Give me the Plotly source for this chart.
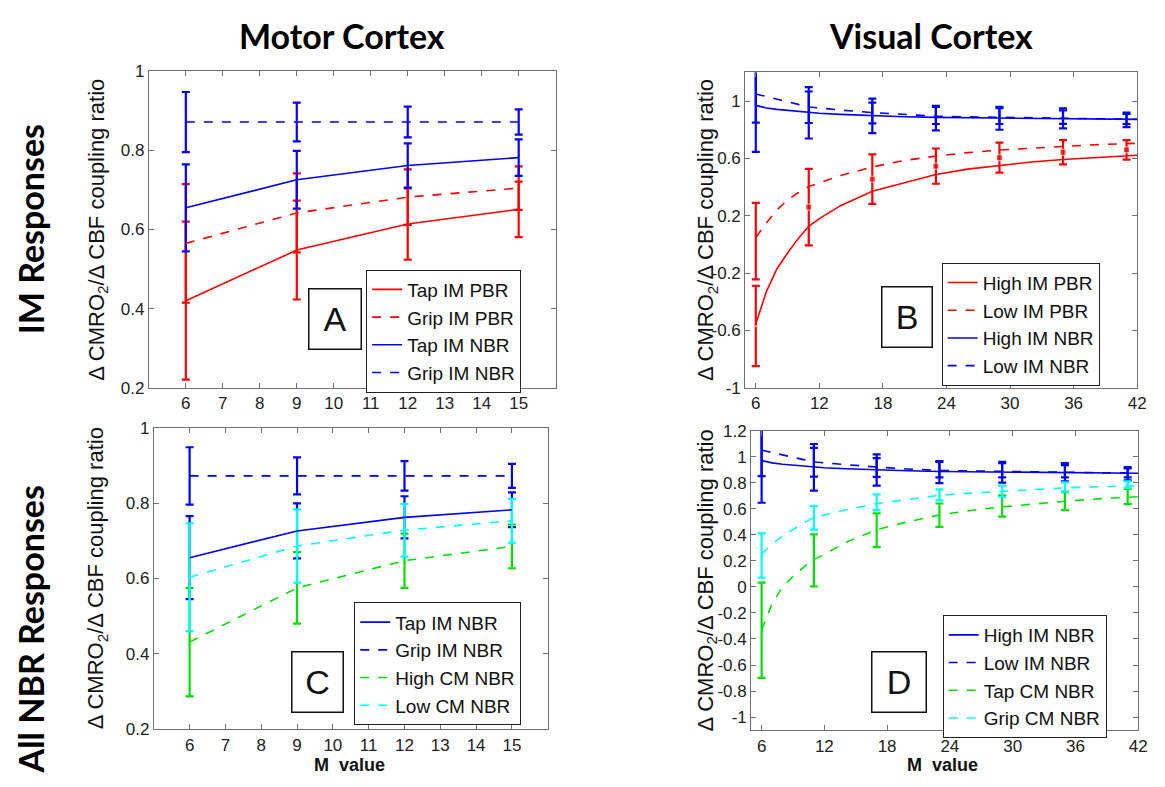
import plotly.graph_objects as go

W, H = 1165, 787

# ---------------- data ----------------
M_motor = [6, 9, 12, 15]
tap_im_pbr = [0.42, 0.548, 0.614, 0.651]
tap_im_pbr_err = [0.2, 0.125, 0.09, 0.07]
grip_im_pbr = [0.565, 0.642, 0.682, 0.705]
grip_im_pbr_err = [0.15, 0.1, 0.07, 0.055]
tap_im_nbr = [0.655, 0.726, 0.762, 0.782]
tap_im_nbr_err = [0.11, 0.073, 0.056, 0.046]
grip_im_nbr = [0.872, 0.872, 0.872, 0.872]
grip_im_nbr_err = [0.076, 0.049, 0.039, 0.032]
high_cm_nbr = [0.431, 0.575, 0.647, 0.685]
high_cm_nbr_err = [0.144, 0.095, 0.072, 0.058]
low_cm_nbr = [0.603, 0.686, 0.728, 0.753]
low_cm_nbr_err = [0.143, 0.097, 0.07, 0.058]

M_curve = [6, 7, 8, 9, 10, 11, 12, 14, 17, 20, 23, 26, 29, 32, 35, 38, 41, 42]
high_im_pbr_curve = [-0.555, -0.33, -0.17, -0.06, 0.04, 0.126, 0.18, 0.27, 0.37, 0.43,
                     0.487, 0.525, 0.552, 0.575, 0.592, 0.607, 0.619, 0.622]
low_im_pbr_curve = [0.047, 0.15, 0.24, 0.31, 0.36, 0.403, 0.43, 0.48, 0.54, 0.585,
                    0.616, 0.64, 0.658, 0.672, 0.685, 0.695, 0.703, 0.705]
high_im_nbr_curve = [0.97, 0.952, 0.942, 0.935, 0.928, 0.92, 0.915, 0.907, 0.898, 0.891,
                     0.886, 0.883, 0.88, 0.877, 0.875, 0.874, 0.872, 0.872]
low_im_nbr_curve = [1.05, 1.03, 1.012, 0.995, 0.977, 0.959, 0.952, 0.937, 0.92, 0.905,
                    0.894, 0.89, 0.886, 0.882, 0.879, 0.876, 0.873, 0.873]
tap_cm_nbr_curve = [-0.33, -0.13, 0.0, 0.08, 0.15, 0.21, 0.25, 0.34, 0.44, 0.50,
                    0.552, 0.587, 0.614, 0.638, 0.657, 0.675, 0.69, 0.692]
grip_cm_nbr_curve = [0.25, 0.33, 0.39, 0.44, 0.49, 0.532, 0.552, 0.59, 0.64, 0.672,
                     0.703, 0.72, 0.735, 0.748, 0.76, 0.768, 0.775, 0.777]

M_err = [6, 11, 17, 23, 29, 35, 41]
high_im_nbr_pts = [0.97, 0.918, 0.897, 0.881, 0.88, 0.88, 0.869]
high_im_nbr_pts_err = [0.324, 0.179, 0.12, 0.085, 0.08, 0.07, 0.051]
low_im_nbr_pts = [1.05, 0.957, 0.917, 0.90, 0.895, 0.888, 0.875]
low_im_nbr_pts_err = [0.2, 0.11, 0.072, 0.06, 0.055, 0.047, 0.035]
high_im_pbr_pts = [-0.57, 0.26, 0.455, 0.546, 0.605, 0.643, 0.66]
high_im_pbr_pts_err = [0.28, 0.267, 0.173, 0.123, 0.105, 0.085, 0.068]
low_im_pbr_pts = [0.023, None, None, None, None, None, None]
low_im_pbr_pts_err = [0.267, 0, 0, 0, 0, 0, 0]
grip_cm_nbr_pts = [0.24, 0.53, 0.65, 0.706, 0.734, 0.768, 0.785]
grip_cm_nbr_pts_err = [0.17, 0.09, 0.06, 0.042, 0.044, 0.035, 0.025]
tap_cm_nbr_pts = [-0.333, 0.203, 0.435, 0.55, 0.621, 0.659, 0.694]
tap_cm_nbr_pts_err = [0.366, 0.2, 0.13, 0.09, 0.082, 0.069, 0.059]

motor_xticks = [6, 7, 8, 9, 10, 11, 12, 13, 14, 15]
visual_xticks = [6, 12, 18, 24, 30, 36, 42]
A_yticks = [0.2, 0.4, 0.6, 0.8, 1]
B_yticks = [-1, -0.6, -0.2, 0.2, 0.6, 1]
D_yticks = [-1, -0.8, -0.6, -0.4, -0.2, 0, 0.2, 0.4, 0.6, 0.8, 1, 1.2]

RED, BLUE, GREEN, CYAN = "#ff0000", "#0000ff", "#00e000", "#00ffff"

# ---------------- layout helpers ----------------
def xd(a, b):
    return [a / W, b / W]

def yd(top, bot):
    return [1 - bot / H, 1 - top / H]

fig = go.Figure()

def line(x, y, color, dash, name, ax, leg, show=True):
    fig.add_trace(go.Scatter(x=x, y=y, mode="lines", name=name,
                             line=dict(color=color, width=1.6, dash="dash" if dash else "solid"),
                             xaxis="x" + ax, yaxis="y" + ax, legend=leg, showlegend=show,
                             hoverinfo="skip"))

def ebar(x, y, err, color, ax, msize=None):
    if msize is None:
        marker = dict(color="rgba(0,0,0,0)", size=1)
    else:
        marker = dict(color=[("rgba(0,0,0,0)" if s == 0 else color) for s in msize],
                      size=[max(s, 1) for s in msize], symbol="square")
    fig.add_trace(go.Scatter(x=x, y=y, mode="markers", showlegend=False,
                             marker=marker,
                             error_y=dict(type="data", array=err, color=color, thickness=2.2, width=4),
                             xaxis="x" + ax, yaxis="y" + ax, hoverinfo="skip"))

# Panel A
ebar(M_motor, tap_im_pbr, tap_im_pbr_err, RED, "")
ebar(M_motor, grip_im_pbr, grip_im_pbr_err, RED, "")
ebar(M_motor, tap_im_nbr, tap_im_nbr_err, BLUE, "")
ebar(M_motor, grip_im_nbr, grip_im_nbr_err, BLUE, "")
line(M_motor, tap_im_pbr, RED, False, "Tap IM PBR", "", "legend")
line(M_motor, grip_im_pbr, RED, True, "Grip IM PBR", "", "legend")
line(M_motor, tap_im_nbr, BLUE, False, "Tap IM NBR", "", "legend")
line(M_motor, grip_im_nbr, BLUE, True, "Grip IM NBR", "", "legend")

# Panel B
ebar(M_err, high_im_pbr_pts, high_im_pbr_pts_err, RED, "2", msize=[0, 6, 6, 6, 6, 6, 6])
ebar(M_err, low_im_pbr_pts, low_im_pbr_pts_err, RED, "2")
ebar(M_err, high_im_nbr_pts, high_im_nbr_pts_err, BLUE, "2")
ebar(M_err, low_im_nbr_pts, low_im_nbr_pts_err, BLUE, "2")
line(M_curve, high_im_pbr_curve, RED, False, "High IM PBR", "2", "legend2")
line(M_curve, low_im_pbr_curve, RED, True, "Low IM PBR", "2", "legend2")
line(M_curve, high_im_nbr_curve, BLUE, False, "High IM NBR", "2", "legend2")
line(M_curve, low_im_nbr_curve, BLUE, True, "Low IM NBR", "2", "legend2")

# Panel C
ebar(M_motor, tap_im_nbr, tap_im_nbr_err, BLUE, "3")
ebar(M_motor, grip_im_nbr, grip_im_nbr_err, BLUE, "3")
ebar(M_motor, high_cm_nbr, high_cm_nbr_err, GREEN, "3")
ebar(M_motor, low_cm_nbr, low_cm_nbr_err, CYAN, "3")
line(M_motor, tap_im_nbr, BLUE, False, "Tap IM NBR", "3", "legend3")
line(M_motor, grip_im_nbr, BLUE, True, "Grip IM NBR", "3", "legend3")
line(M_motor, high_cm_nbr, GREEN, True, "High CM NBR", "3", "legend3")
line(M_motor, low_cm_nbr, CYAN, True, "Low CM NBR", "3", "legend3")

# Panel D
ebar(M_err, high_im_nbr_pts, high_im_nbr_pts_err, BLUE, "4")
ebar(M_err, low_im_nbr_pts, low_im_nbr_pts_err, BLUE, "4")
ebar(M_err, tap_cm_nbr_pts, tap_cm_nbr_pts_err, GREEN, "4")
ebar(M_err, grip_cm_nbr_pts, grip_cm_nbr_pts_err, CYAN, "4")
line(M_curve, high_im_nbr_curve, BLUE, False, "High IM NBR", "4", "legend4")
line(M_curve, low_im_nbr_curve, BLUE, True, "Low IM NBR", "4", "legend4")
line(M_curve, tap_cm_nbr_curve, GREEN, True, "Tap CM NBR", "4", "legend4")
line(M_curve, grip_cm_nbr_curve, CYAN, True, "Grip CM NBR", "4", "legend4")

TICKFONT = dict(family="Liberation Sans, Arial, sans-serif", size=17, color="#222")
AXC = "#707070"

def axis(domain, rng, tickvals, anchor, ticktext=None):
    d = dict(domain=domain, range=rng, tickvals=tickvals, anchor=anchor,
             showline=True, linecolor=AXC, linewidth=1, mirror="ticks",
             ticks="inside", ticklen=5, tickcolor=AXC, showgrid=False, zeroline=False,
             tickfont=TICKFONT, fixedrange=True)
    if ticktext is not None:
        d["ticktext"] = ticktext
    return d

def fmt(v):
    return "%g" % v

fig.update_layout(
    xaxis=axis(xd(150, 560), [5, 16], motor_xticks, "y"),
    yaxis=axis(yd(64, 388), [0.2, 1], A_yticks, "x", [fmt(v) for v in A_yticks]),
    xaxis2=axis(xd(751, 1146), [5, 42], visual_xticks, "y2"),
    yaxis2=axis(yd(65, 388), [-1, 1.2], B_yticks, "x2", [fmt(v) for v in B_yticks]),
    xaxis3=axis(xd(155, 552), [5, 16], motor_xticks, "y3"),
    yaxis3=axis(yd(429, 738), [0.2, 1], A_yticks, "x3", [fmt(v) for v in A_yticks]),
    xaxis4=axis(xd(757, 1147), [5, 42], visual_xticks, "y4"),
    yaxis4=axis(yd(432, 739), [-1.1, 1.2], D_yticks, "x4", [fmt(v) for v in D_yticks]),
)

LEGFONT = dict(family="Liberation Sans, Arial, sans-serif", size=19, color="#111")

def legend(left, top):
    return dict(x=left / W, y=1 - top / H, xanchor="left", yanchor="top",
                bgcolor="white", bordercolor="#222", borderwidth=1, font=LEGFONT,
                tracegroupgap=0, itemwidth=30)

fig.update_layout(
    legend=legend(369, 267),
    legend2=legend(949, 260),
    legend3=legend(357, 608),
    legend4=legend(950, 621),
)

ann = []
def letter(t, cx, cy, w, h):
    ann.append(dict(text=t, x=cx / W, y=1 - cy / H, xref="paper", yref="paper",
                    showarrow=False, width=w - 4, height=h - 4, bordercolor="#111", borderwidth=1.5,
                    bgcolor="white", font=dict(family="Liberation Sans, Arial, sans-serif", size=34, color="#111"),
                    xanchor="center", yanchor="middle"))

letter("A", 338, 318, 53, 61)
letter("B", 914.5, 315.5, 51, 61)
letter("C", 319.5, 690, 52, 61)
letter("D", 906.5, 690, 55, 61)

TITLEFONT = dict(family="Lato, Open Sans, sans-serif", size=34, color="#000", weight="bold")

def txt(t, x, y, font, angle=0):
    ann.append(dict(text=t, x=x / W, y=1 - y / H, xref="paper", yref="paper", showarrow=False,
                    font=font, textangle=angle, xanchor="center", yanchor="middle"))

txt("Motor Cortex", 345, 27, TITLEFONT)
txt("Visual Cortex", 938, 27, TITLEFONT)
txt("IM Responses", 31, 226, TITLEFONT, -90)
txt("All NBR Responses", 31, 636, TITLEFONT, -90)

YTFONT = dict(family="Liberation Sans Narrow, Arial Narrow, Liberation Sans, sans-serif", size=22, color="#111")
ytitle = "Δ CMRO<sub>2</sub>/Δ CBF coupling ratio"
txt(ytitle, 98, 226, YTFONT, -90)
txt(ytitle, 98, 583, YTFONT, -90)
txt(ytitle, 712, 226, YTFONT, -90)
txt(ytitle, 712, 585, YTFONT, -90)

XTFONT = dict(family="Liberation Sans, Arial, sans-serif", size=18, color="#111", weight="bold")
txt("M  value", 352, 775, XTFONT)
txt("M  value", 950, 775, XTFONT)

fig.update_layout(annotations=ann, width=W, height=H,
                  margin=dict(l=0, r=0, t=0, b=0),
                  paper_bgcolor="white", plot_bgcolor="white")

fig.write_html("out.html", config={"displayModeBar": False})
